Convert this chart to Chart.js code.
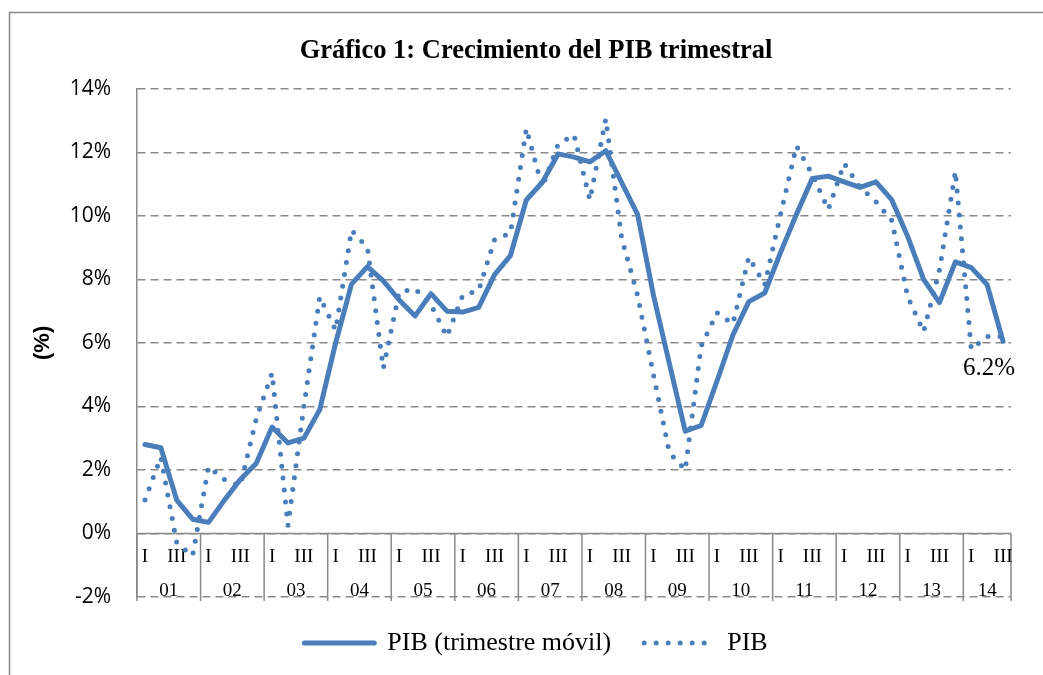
<!DOCTYPE html>
<html lang="es">
<head>
<meta charset="utf-8">
<title>Crecimiento del PIB trimestral</title>
<script src="https://cdn.jsdelivr.net/npm/chart.js@4.4.1/dist/chart.umd.min.js"></script>
<style>
    html, body { margin: 0; padding: 0; background: #ffffff; }
    #grafico { display: block; }
</style>
</head>
<body>
<canvas id="grafico" width="1043" height="675"></canvas>
<script>
// Años y trimestres del eje horizontal (2001-I a 2014-III)
const anios      = ['01', '02', '03', '04', '05', '06', '07', '08', '09', '10', '11', '12', '13', '14'];
const trimestres = ['I', 'II', 'III', 'IV'];
const totalTrimestres = 55;

// Marcas del eje vertical (%)
const ticksY = [-2, 0, 2, 4, 6, 8, 10, 12, 14];

// PIB (trimestre móvil) - línea continua
const pibMovil = [
    2.8, 2.7, 1.05, 0.45,
    0.35, 1.05, 1.7, 2.2,
    3.35, 2.85, 3.0, 3.9,
    6.0, 7.85, 8.4, 7.95,
    7.35, 6.85, 7.55, 7.0,
    6.97, 7.12, 8.15, 8.75,
    10.5, 11.05, 11.95, 11.85,
    11.7, 12.05, 11.05, 10.05,
    7.5, 5.35, 3.22, 3.4,
    4.8, 6.25, 7.3, 7.57,
    8.85, 10.05, 11.18, 11.25,
    11.07, 10.9, 11.07, 10.5,
    9.35, 8.0, 7.27, 8.55,
    8.37, 7.83, 6.05
];

// PIB trimestral - línea punteada
const pib = [
    1.05, 2.4, -0.3, -0.7,
    2.1, 1.7, 1.5, 3.6,
    5.05, 0.25, 4.0, 7.45,
    6.4, 9.55, 9.0, 5.2,
    7.6, 7.7, 7.2, 6.2,
    7.5, 7.65, 9.25, 9.45,
    12.75, 10.9, 12.25, 12.55,
    10.5, 13.05, 9.3, 7.5,
    5.0, 2.55, 2.0, 5.9,
    6.95, 6.6, 8.7, 7.83,
    10.05, 12.2, 11.3, 10.2,
    11.65, 10.9, 10.45, 9.85,
    7.45, 6.35, 8.3, 11.4,
    5.8, 6.2, 6.2
];

const etiquetaFinal = '6.2%';

// Categorías "01-I", "01-II", ... construidas a partir de años y trimestres
const categorias = [];
for (let i = 0; i < totalTrimestres; i++) {
    categorias.push(anios[Math.floor(i / 4)] + '-' + trimestres[i % 4]);
}

const AZUL  = '#4a7ebb';
const GRIS  = '#898989';
const SERIF = "'Liberation Serif', 'Times New Roman', serif";

// ─────────────────────────────────────────────
// Plugin: fondo, borde, eje de categorías en 0%, etiqueta final y "(%)"
// ─────────────────────────────────────────────
const pluginDecoracion = {
    id: 'decoracion',
    beforeDraw(chart) {
        const ctx = chart.ctx;
        ctx.save();
        ctx.fillStyle = '#ffffff';
        ctx.fillRect(0, 0, chart.width, chart.height);
        ctx.strokeStyle = GRIS;
        ctx.lineWidth = 1.5;
        ctx.strokeRect(9.5, 12.5, chart.width + 20, chart.height + 20);
        ctx.restore();
    },
    beforeDatasetsDraw(chart) {
        const {ctx, chartArea, scales: {x, y}} = chart;
        const y0 = y.getPixelForValue(0);
        const yb = y.getPixelForValue(-2);
        const medio = (x.getPixelForValue(1) - x.getPixelForValue(0)) / 2;

        ctx.save();
        // Línea del eje en 0%
        ctx.strokeStyle = GRIS;
        ctx.lineWidth = 1.5;
        ctx.beginPath();
        ctx.moveTo(chartArea.left, y0);
        ctx.lineTo(chartArea.right, y0);
        ctx.stroke();

        ctx.fillStyle = '#000';
        ctx.textAlign = 'center';
        ctx.textBaseline = 'middle';

        anios.forEach((anio, k) => {
            const ini = k * 4;
            const fin = Math.min(ini + 3, totalTrimestres - 1);
            const xIni = x.getPixelForValue(ini) - medio;
            const xFin = x.getPixelForValue(fin) + medio;

            // Separadores de año
            ctx.beginPath();
            ctx.moveTo(xIni, y0);
            ctx.lineTo(xIni, yb + 4);
            if (k === anios.length - 1) {
                ctx.moveTo(xFin, y0);
                ctx.lineTo(xFin, yb + 4);
            }
            ctx.stroke();

            // Trimestres I y III
            ctx.font = '19px ' + SERIF;
            ctx.fillText(trimestres[0], x.getPixelForValue(ini), y0 + 24);
            if (ini + 2 <= fin) ctx.fillText(trimestres[2], x.getPixelForValue(ini + 2), y0 + 24);

            // Año
            ctx.fillText(anio, (xIni + xFin) / 2, yb - 6);
        });
        ctx.restore();
    },
    afterDatasetsDraw(chart) {
        const ctx = chart.ctx;
        const meta = chart.getDatasetMeta(1);
        const ultimo = meta.data[meta.data.length - 1];
        ctx.save();
        ctx.fillStyle = '#000';
        ctx.font = '25px ' + SERIF;
        ctx.textAlign = 'center';
        ctx.textBaseline = 'middle';
        ctx.fillText(etiquetaFinal, ultimo.x - 14, ultimo.y + 32);

        // Título del eje vertical
        const cy = (chart.chartArea.top + chart.chartArea.bottom) / 2;
        ctx.translate(43, cy);
        ctx.rotate(-Math.PI / 2);
        ctx.font = "bold 22px 'Liberation Sans', Arial, sans-serif";
        ctx.fillText('(%)', 0, 0);
        ctx.restore();
    }
};

// Leyenda con el estilo real de cada línea (continua / punteada)
function etiquetasLeyenda(chart) {
    return chart.data.datasets.map((ds, i) => ({
        text: ds.label,
        fillStyle: ds.borderColor,
        strokeStyle: ds.borderColor,
        fontColor: '#000',
        lineWidth: ds.borderWidth,
        lineDash: ds.borderDash || [],
        lineCap: 'round',
        pointStyle: 'line',
        hidden: false,
        datasetIndex: i
    }));
}

new Chart(document.getElementById('grafico'), {
    type: 'line',
    data: {
        labels: categorias,
        datasets: [
            {
                label: 'PIB (trimestre móvil)',
                data: pibMovil,
                borderColor: AZUL,
                backgroundColor: AZUL,
                borderWidth: 5,
                borderCapStyle: 'round',
                borderJoinStyle: 'round',
                pointRadius: 0,
                tension: 0,
                fill: false
            },
            {
                label: 'PIB',
                data: pib,
                borderColor: AZUL,
                backgroundColor: AZUL,
                borderWidth: 5,
                borderDash: [0, 12],
                borderCapStyle: 'round',
                borderJoinStyle: 'round',
                pointRadius: 0,
                tension: 0,
                fill: false
            }
        ]
    },
    options: {
        responsive: false,
        animation: false,
        devicePixelRatio: 1,
        layout: { padding: { top: 12, left: 61, right: 32, bottom: 9 } },
        plugins: {
            title: {
                display: true,
                text: 'Gráfico 1: Crecimiento del PIB trimestral',
                color: '#000',
                font: { family: SERIF, size: 26.5, weight: 'bold' },
                padding: { top: 23, bottom: 22 }
            },
            legend: {
                position: 'bottom',
                labels: {
                    color: '#000',
                    font: { family: SERIF, size: 26 },
                    usePointStyle: true,
                    pointStyle: 'line',
                    pointStyleWidth: 70,
                    padding: 33,
                    generateLabels: etiquetasLeyenda
                }
            },
            tooltip: { enabled: false }
        },
        scales: {
            x: {
                type: 'category',
                offset: true,
                display: false
            },
            y: {
                min: ticksY[0],
                max: ticksY[ticksY.length - 1],
                afterFit: (escala) => { escala.width = 76; },
                afterBuildTicks: (escala) => { escala.ticks = ticksY.map(v => ({ value: v })); },
                ticks: {
                    color: '#000',
                    padding: 26,
                    font: { family: "'Open Sans', sans-serif", size: 21 },
                    callback: v => v + '%'
                },
                grid: { color: GRIS, lineWidth: 1.5, drawTicks: false },
                border: { display: true, color: GRIS, width: 1.5, dash: [8, 5] }
            }
        }
    },
    plugins: [pluginDecoracion]
});
</script>
</body>
</html>
